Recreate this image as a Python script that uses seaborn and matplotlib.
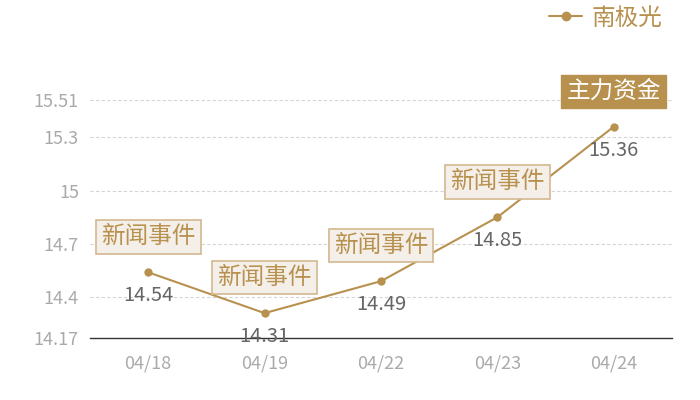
import pandas as pd
import matplotlib
matplotlib.use("Agg")
import matplotlib.pyplot as plt
import seaborn as sns
from matplotlib.lines import Line2D

# data
dates = ["04/18", "04/19", "04/22", "04/23", "04/24"]
values = [14.54, 14.31, 14.49, 14.85, 15.36]
events = ["新闻事件", "新闻事件", "新闻事件", "新闻事件", "主力资金"]
y_ticks = [14.17, 14.4, 14.7, 15, 15.3, 15.51]
y_tick_labels = ["14.17", "14.4", "14.7", "15", "15.3", "15.51"]
series_name = "南极光"

GOLD = "#b8914f"
TICK_GRAY = "#aaaaaa"
LABEL_GRAY = "#666666"

sns.set_style("white")
plt.rcParams['font.family'] = ['Noto Sans CJK SC', 'DejaVu Sans']

df = pd.DataFrame({"date": dates, "value": values})
df["pos"] = range(len(df))

fig = plt.figure(figsize=(7, 4), dpi=100)
ax = fig.add_axes([90 / 700, 62 / 400, 582 / 700, 238 / 400])

sns.lineplot(data=df, x="pos", y="value", ax=ax, color=GOLD, linewidth=1.5,
             marker="o", markersize=6, markeredgewidth=0, legend=False)

ax.set_xlim(-0.5, len(dates) - 0.5)
ax.set_ylim(y_ticks[0], y_ticks[-1])
ax.set_xticks(df["pos"])
ax.set_xticklabels(dates)
ax.set_yticks(y_ticks)
ax.set_yticklabels(y_tick_labels)
ax.tick_params(axis="both", length=0, labelsize=13, colors=TICK_GRAY)
ax.tick_params(axis="x", pad=12)
ax.tick_params(axis="y", pad=8)
ax.set_xlabel("")
ax.set_ylabel("")

for t in y_ticks[1:]:
    ax.axhline(t, color="#d4d4d4", linewidth=0.8, linestyle=(0, (3, 2)), zorder=0)

for s in ["top", "right", "left"]:
    ax.spines[s].set_visible(False)
ax.spines["bottom"].set_color("#333333")
ax.spines["bottom"].set_linewidth(1)

# value labels under the points
for x, v in zip(df["pos"], values):
    ax.annotate(f"{v:.2f}", (x, v), xytext=(0, -17), textcoords="offset points",
                ha="center", va="center", fontsize=14.5, color=LABEL_GRAY,
                annotation_clip=False)

# event boxes above the points
for x, v, ev in zip(df["pos"], values, events):
    if ev == "主力资金":
        box = dict(boxstyle="square,pad=0.22", facecolor=GOLD, edgecolor=GOLD)
        tc = "white"
    else:
        box = dict(boxstyle="square,pad=0.22", facecolor="#f4efe9", edgecolor="#d3b88f", linewidth=1.2)
        tc = GOLD
    ax.annotate(ev, (x, v), xytext=(0, 25.5), textcoords="offset points",
                ha="center", va="center", fontsize=17, color=tc, bbox=box,
                annotation_clip=False)

handle = Line2D([], [], color=GOLD, marker="o", markersize=6, linewidth=1.5)
leg = fig.legend([handle], [series_name], loc="center right",
                 bbox_to_anchor=(684 / 700, 1 - 18 / 400), frameon=False,
                 fontsize=17, handlelength=1.4, handletextpad=0.4, labelcolor=GOLD)

fig.savefig("out.png", dpi=100)
